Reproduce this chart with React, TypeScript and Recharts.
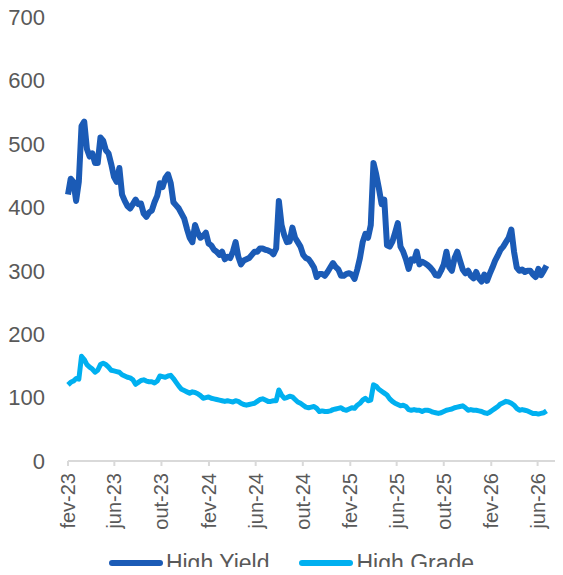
import React from 'react'
import { LineChart, Line, XAxis, YAxis, Legend } from 'recharts'

// weekly observations, first one on 1 Feb 2023
const START_DATE = '2023-02-01'

// spreads in bps, one value per week
const HIGH_YIELD = [
  420, 445, 440, 410, 440, 528, 535, 492, 480, 485, 470, 470, 510, 505, 490, 485, 468, 448, 440, 462,
  420, 410, 402, 398, 405, 412, 405, 406, 390, 385, 392, 395, 408, 418, 438, 432, 446, 452, 438, 408,
  403, 398, 390, 382, 366, 352, 345, 372, 360, 352, 355, 360, 343, 340, 333, 330, 325, 330, 318, 322,
  320, 330, 345, 322, 310, 316, 318, 320, 325, 330, 330, 335, 335, 333, 332, 330, 326, 335, 410, 372,
  356, 345, 346, 368, 352, 345, 338, 325, 320, 318, 312, 305, 290, 295, 295, 292, 298, 305, 312, 306,
  302, 292, 292, 295, 296, 294, 287, 302, 320, 345, 358, 352, 372, 470, 452, 430, 405, 412, 340, 338,
  346, 360, 375, 338, 330, 318, 303, 318, 316, 330, 310, 314, 312, 309, 305, 300, 293, 292, 300, 310,
  330, 306, 300, 320, 330, 316, 302, 296, 300, 292, 288, 298, 288, 283, 294, 284, 295, 305, 316, 324,
  333, 338, 345, 352, 365, 330, 305, 300, 302, 298, 300, 300, 294, 290, 303, 293, 300, 308,
]

const HIGH_GRADE = [
  120, 124, 126, 130, 129, 165, 160, 152, 148, 145, 140, 143, 152, 154, 152, 148, 143, 142, 141, 140,
  136, 134, 132, 131, 128, 121, 124, 127, 128, 126, 125, 125, 123, 126, 134, 133, 132, 134, 135, 130,
  124, 118, 113, 111, 109, 107, 109, 108, 106, 103, 99, 100, 101, 99, 98, 97, 96, 95, 94, 95,
  94, 93, 95, 94, 91, 89, 88, 89, 90, 91, 94, 97, 98, 96, 94, 94, 95, 95, 112, 104,
  99, 100, 102, 101, 97, 93, 91, 88, 85, 84, 85, 86, 83, 78, 79, 78, 78, 79, 81, 82,
  83, 84, 81, 80, 82, 84, 83, 88, 91, 96, 99, 95, 96, 120, 118, 113, 110, 107, 104, 98,
  94, 91, 89, 87, 88, 86, 81, 80, 81, 80, 80, 78, 80, 80, 79, 77, 76, 75, 76, 78,
  80, 81, 82, 84, 85, 86, 87, 84, 80, 81, 80, 80, 79, 78, 76, 75, 77, 80, 83, 86,
  90, 92, 94, 93, 91, 88, 83, 80, 81, 80, 79, 77, 75, 75, 74, 75, 76, 79,
]

const SERIES_NAMES = ['High Yield', 'High Grade']

const TICK_DATES = [
  '2023-02-01', '2023-06-01', '2023-10-01', '2024-02-01', '2024-06-01', '2024-10-01',
  '2025-02-01', '2025-06-01', '2025-10-01', '2026-02-01', '2026-06-01',
]
const TICK_LABELS = [
  'fev-23', 'jun-23', 'out-23', 'fev-24', 'jun-24', 'out-24',
  'fev-25', 'jun-25', 'out-25', 'fev-26', 'jun-26',
]
const END_DATE = '2026-07-29'
const Y_TICKS = [0, 100, 200, 300, 400, 500, 600, 700]

const HY_COLOR = '#1b5bb6'
const HG_COLOR = '#00b0f0'
const FONT = '"Liberation Sans", Arial, sans-serif'
const WEEK = 7 * 24 * 3600 * 1000

const toTime = (d: string) => new Date(d + 'T00:00:00Z').getTime()

const t0 = toTime(START_DATE)
const data = HIGH_YIELD.map((hy, i) => ({ t: t0 + i * WEEK, hy, hg: HIGH_GRADE[i] }))
const tickTimes = TICK_DATES.map(toTime)

const XTick = (props: any) => {
  const { x, y, payload } = props
  const idx = tickTimes.indexOf(payload.value)
  return (
    <g transform={`translate(${x},${y})`}>
      <text
        transform="rotate(-90)"
        x={0}
        y={0}
        dy="0.35em"
        textAnchor="end"
        fill="#595959"
        fontSize={20}
        fontFamily={FONT}
      >
        {TICK_LABELS[idx]}
      </text>
    </g>
  )
}

const LegendContent = (props: any) => {
  const items = [...(props.payload || [])].sort(
    (a: any, b: any) => SERIES_NAMES.indexOf(a.value) - SERIES_NAMES.indexOf(b.value)
  )
  return (
    <div style={{ display: 'flex', justifyContent: 'center', paddingLeft: 20, fontFamily: FONT, height: 24 }}>
      {items.map((p: any, i: number) => (
        <div key={p.value} style={{ display: 'flex', alignItems: 'center', marginLeft: i ? 30 : 0 }}>
          <div style={{ width: 54, height: 6, borderRadius: 3, background: p.color, marginRight: 3 }} />
          <span style={{ fontSize: 23, color: '#595959', lineHeight: '24px' }}>{p.value}</span>
        </div>
      ))}
    </div>
  )
}

export default function App() {
  return (
    <div style={{ margin: -8, width: 563, height: 575, background: '#fff' }}>
      <LineChart width={563} height={575} data={data} margin={{ top: 17, right: 3, left: 0, bottom: 0 }}>
        <XAxis
          dataKey="t"
          type="number"
          scale="time"
          domain={[t0, toTime(END_DATE)]}
          ticks={tickTimes}
          tick={<XTick />}
          tickSize={5}
          tickMargin={7}
          height={90}
          axisLine={{ stroke: '#d9d9d9', strokeWidth: 2 }}
          tickLine={{ stroke: '#d9d9d9', strokeWidth: 2 }}
          interval={0}
        />
        <YAxis
          domain={[0, 700]}
          ticks={Y_TICKS}
          width={68}
          axisLine={false}
          tickLine={false}
          tickMargin={17}
          tick={{ fill: '#595959', fontSize: 22, fontFamily: FONT }}
        />
        <Legend verticalAlign="bottom" content={<LegendContent />} wrapperStyle={{ left: 0, width: 563 }} />
        <Line
          type="linear"
          dataKey="hy"
          name={SERIES_NAMES[0]}
          stroke={HY_COLOR}
          strokeWidth={6}
          strokeLinejoin="round"
          dot={false}
          isAnimationActive={false}
        />
        <Line
          type="linear"
          dataKey="hg"
          name={SERIES_NAMES[1]}
          stroke={HG_COLOR}
          strokeWidth={5}
          strokeLinejoin="round"
          dot={false}
          isAnimationActive={false}
        />
      </LineChart>
    </div>
  )
}
